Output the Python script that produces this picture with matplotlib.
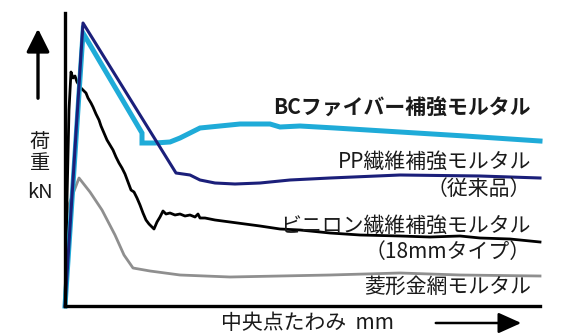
import matplotlib
matplotlib.use("Agg")
import matplotlib.pyplot as plt
from matplotlib.patches import FancyArrowPatch

plt.rcParams['font.family'] = ['Noto Sans CJK JP', 'DejaVu Sans']

W, H = 577, 336

# load-deflection curves (x: deflection, y: load, arbitrary units)
bc_x = [0, 18, 77, 77, 90, 105, 115, 135, 175, 205, 215, 235, 270, 335, 400, 475]
bc_y = [0, 273, 173, 163, 163, 164, 168, 178, 182, 182, 179, 180, 178, 174, 170, 165]

pp_x = [0, 18, 111, 125, 135, 150, 170, 195, 225, 265, 335, 415, 475]
pp_y = [0, 283, 133, 131, 126, 123, 122, 123, 126, 128, 131, 130, 128]

vin_x = [0, 2, 4, 6, 8, 10, 12, 14, 16, 18, 21, 23, 26, 28, 31, 34, 36, 39, 42, 45,
         48, 51, 54, 57, 60, 63, 66, 69, 72, 75, 78, 81, 84, 87, 89, 92, 95, 98, 101,
         105, 110, 115, 120, 125, 130, 133, 135, 140, 150, 165, 180, 195, 215, 235,
         265, 295, 335, 365, 395, 415, 445, 475]
vin_y = [0, 106, 196, 234, 228, 230, 224, 221, 218, 216, 213, 208, 203, 199, 192, 186,
         180, 173, 166, 161, 156, 149, 143, 138, 132, 124, 116, 114, 108, 101, 93, 86,
         82, 79, 77, 84, 89, 95, 92, 93, 91, 92, 90, 91, 89, 92, 88, 88, 86, 84, 82,
         80, 77, 76, 73, 71, 70, 69, 70, 68, 67, 64]

mesh_x = [0, 1, 3, 14, 25, 37, 50, 59, 68, 85, 115, 165, 215, 265, 335, 395, 475]
mesh_y = [0, 76, 99, 128, 114, 96, 71, 51, 38, 35, 31, 29, 30, 31, 33, 31, 30]

labels = ['BCファイバー補強モルタル', 'PP繊維補強モルタル', '（従来品）',
          'ビニロン繊維補強モルタル', '（18mmタイプ）', '菱形金網モルタル']
label_py = [107, 162, 189, 226, 252, 287]

fig = plt.figure(figsize=(W / 100, H / 100), dpi=100)
ax = fig.add_axes([65 / W, (H - 306) / H, (540 - 65) / W, (306 - 13) / H])

ax.plot(mesh_x, mesh_y, color='#8f8f8f', lw=2.0, clip_on=False)
ax.plot(vin_x, vin_y, color='black', lw=2.0, clip_on=False)
ax.plot(bc_x, bc_y, color='#1fabd8', lw=3.6, clip_on=False, solid_joinstyle='miter')
ax.plot(pp_x, pp_y, color='#1b1f7a', lw=2.2, clip_on=False)

ax.set_xlim(0, 475)
ax.set_ylim(0, 293)
ax.set_xticks([])
ax.set_yticks([])
for s in ['top', 'right']:
    ax.spines[s].set_visible(False)
for s in ['left', 'bottom']:
    ax.spines[s].set_linewidth(2.4)
    ax.spines[s].set_zorder(5)

def ftext(px, py, s, **kw):
    fig.text(px / W, 1 - py / H, s, va='center', color='#1a1a1a', **kw)

for i, (lab, py) in enumerate(zip(labels, label_py)):
    ftext(531, py, lab, ha='right', fontsize=15,
          fontweight='bold' if i == 0 else 'normal')

ftext(40, 143, '荷', ha='center', fontsize=14.5)
ftext(40, 164, '重', ha='center', fontsize=14.5)
ftext(40, 193, 'kN', ha='center', fontsize=14.5)
ftext(221, 323, '中央点たわみ  mm', ha='left', fontsize=15)

up = FancyArrowPatch((38 / W, 1 - 101 / H), (38 / W, 1 - 26 / H), transform=fig.transFigure,
                     arrowstyle='-|>,head_length=1.0,head_width=0.5', mutation_scale=14,
                     color='black', lw=2.4)
fig.patches.append(up)
right = FancyArrowPatch((433 / W, 1 - 323 / H), (524 / W, 1 - 323 / H), transform=fig.transFigure,
                        arrowstyle='-|>,head_length=1.0,head_width=0.45', mutation_scale=14,
                        color='black', lw=1.8)
fig.patches.append(right)

fig.savefig('out.png', dpi=100)
